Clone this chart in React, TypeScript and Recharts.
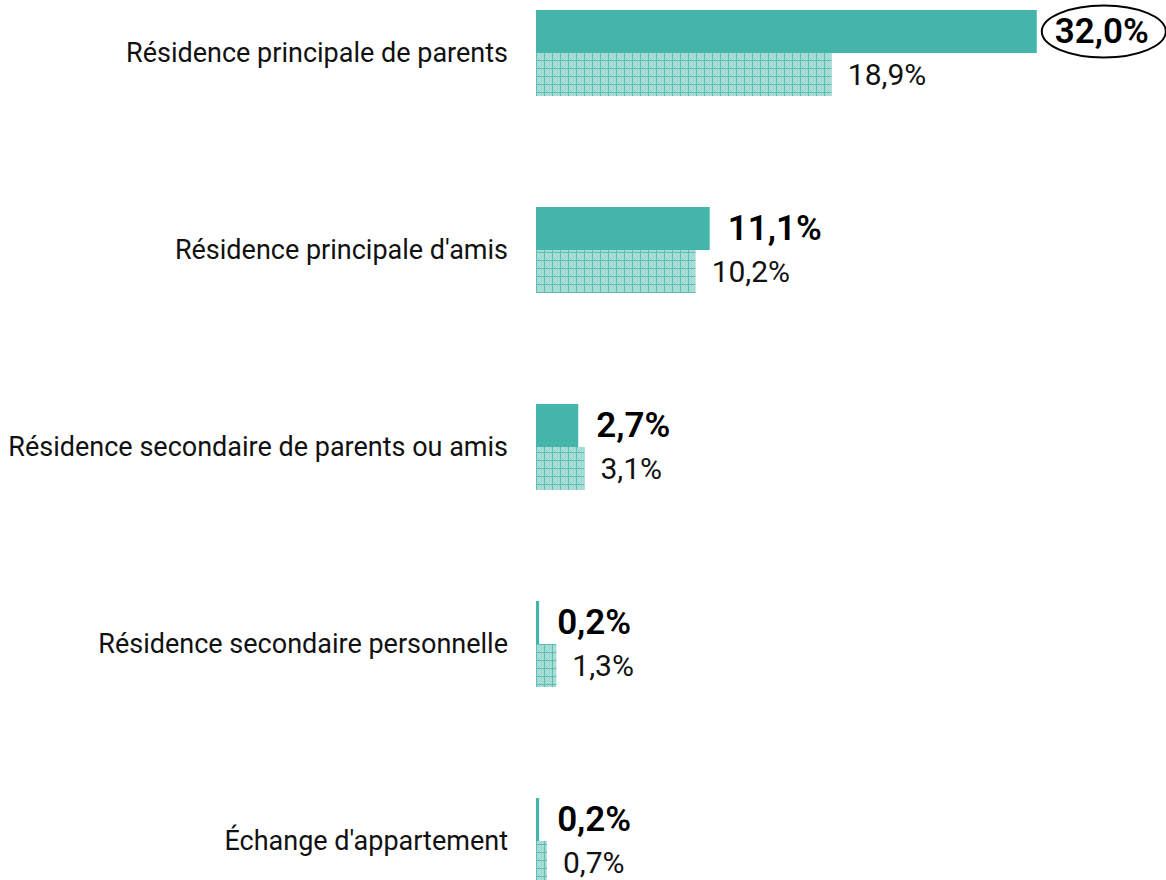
import React from 'react';
import { BarChart, Bar, XAxis, YAxis, LabelList } from 'recharts';

const categories = [
  'Résidence principale de parents',
  "Résidence principale d'amis",
  'Résidence secondaire de parents ou amis',
  'Résidence secondaire personnelle',
  "Échange d'appartement",
];
const seriesSolid = [32.0, 11.1, 2.7, 0.2, 0.2];
const seriesPattern = [18.9, 10.2, 3.1, 1.3, 0.7];
const highlightIndex = 0;

const data = categories.map((name, i) => ({ name, a: seriesSolid[i], b: seriesPattern[i] }));

const fmt = (v: number) => v.toFixed(1).replace('.', ',') + '%';
const FONT = 'Roboto, sans-serif';

const SolidLabel = (props: any) => {
  const { x, y, width, height, value, index } = props;
  const tx = x + width + 18;
  const cy = y + height / 2;
  return (
    <g>
      {index === highlightIndex && (
        <ellipse cx={tx + 49} cy={cy} rx={62} ry={26} fill="none" stroke="#000" strokeWidth={2} />
      )}
      <text x={tx} y={cy} dominantBaseline="central" fontFamily={FONT} fontSize={35} fontWeight={600} fill="#000">
        {fmt(value)}
      </text>
    </g>
  );
};

const PatternLabel = (props: any) => {
  const { x, y, width, height, value } = props;
  return (
    <text x={x + width + 16} y={y + height / 2} dominantBaseline="central" fontFamily={FONT} fontSize={30} fill="#111">
      {fmt(value)}
    </text>
  );
};

export default function App() {
  return (
    <div style={{ position: 'absolute', left: 0, top: -46, width: 1166, height: 985 }}>
      <BarChart
        width={1166}
        height={985}
        data={data}
        layout="vertical"
        margin={{ top: 0, right: 4, bottom: 0, left: 0 }}
        barGap={0}
        barSize={43}
      >
        <defs>
          <pattern id="checker" width="2" height="2" patternUnits="userSpaceOnUse">
            <rect width="2" height="2" fill="#b2e1da" />
            <rect width="1" height="1" fill="#99d6ce" />
            <rect x="1" y="1" width="1" height="1" fill="#99d6ce" />
          </pattern>
          <pattern id="grid" width="8" height="8" patternUnits="userSpaceOnUse" x="0" y="2">
            <rect width="8" height="8" fill="url(#checker)" />
            <rect width="8" height="1" fill="#5fbfb5" />
            <rect width="1" height="8" fill="#5fbfb5" />
          </pattern>
        </defs>
        <XAxis type="number" domain={[0, 40]} hide />
        <YAxis
          type="category"
          dataKey="name"
          width={536}
          axisLine={false}
          tickLine={false}
          tickSize={0}
          tickMargin={28}
          tick={{ fontFamily: FONT, fontSize: 27, fill: '#111' }}
        />
        <Bar dataKey="a" fill="#45b5ab" isAnimationActive={false}>
          <LabelList dataKey="a" content={SolidLabel} />
        </Bar>
        <Bar dataKey="b" fill="url(#grid)" isAnimationActive={false}>
          <LabelList dataKey="b" content={PatternLabel} />
        </Bar>
      </BarChart>
    </div>
  );
}
